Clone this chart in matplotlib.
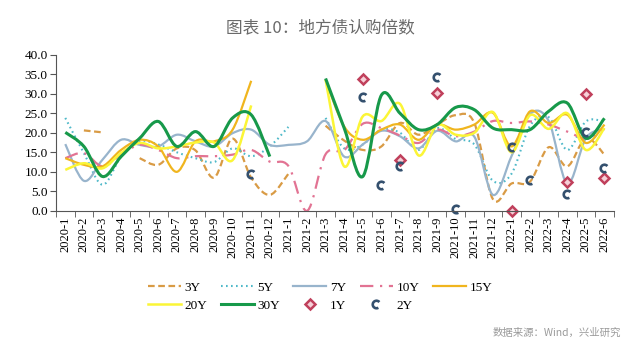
import numpy as np
import matplotlib
matplotlib.use('Agg')
import matplotlib.pyplot as plt
from matplotlib.path import Path
from matplotlib.patches import PathPatch
from matplotlib.lines import Line2D

plt.rcParams['font.family'] = ['Liberation Serif', 'DejaVu Sans']

nan = np.nan

# 月份
months = ['2020-1', '2020-2', '2020-3', '2020-4', '2020-5', '2020-6', '2020-7', '2020-8',
          '2020-9', '2020-10', '2020-11', '2020-12', '2021-1', '2021-2', '2021-3', '2021-4',
          '2021-5', '2021-6', '2021-7', '2021-8', '2021-9', '2021-10', '2021-11', '2021-12',
          '2022-1', '2022-2', '2022-3', '2022-4', '2022-5', '2022-6']

# 认购倍数
y3 = [nan, 20.6, 20.1, nan, 13.5, 11.8, 16.0, 15.5, 8.5, 18.5, 8.5, 4.1, 9.5, nan,
      21.8, 18.0, 15.6, 16.5, 22.5, 19.5, 22.1, 24.5, 22.5, 3.0, 7.0, 7.5, 16.3, 11.4, 18.6, 14.4]
y5 = [23.8, 14.8, 6.7, 13.9, 17.8, 17.0, 15.0, 13.5, 12.5, 16.0, 14.0, 16.5, 21.5, nan,
      23.8, 16.0, 17.0, 20.8, 20.0, 15.6, 21.2, 18.4, 17.0, 7.7, 9.5, 21.8, 24.0, 15.6, 22.9, 22.9]
y7 = [17.1, 7.7, 13.1, 18.2, 16.9, 16.5, 19.5, 17.8, 16.5, 19.9, 20.8, 16.9, 16.9, 17.8,
      23.0, 13.9, 17.0, 20.5, 19.1, 16.0, 20.5, 17.8, 19.0, 4.1, 14.0, 24.8, 23.0, 7.0, 18.6, 21.0]
y10 = [13.5, 14.8, 11.4, 14.4, 16.9, 15.6, 13.5, 14.0, 14.0, 14.4, 15.6, 12.6, 11.5, 0.0,
       14.5, 15.5, 22.3, 21.2, 19.3, 17.4, 20.8, 19.1, 20.3, 23.0, 22.5, 22.9, 22.1, 20.3, 18.6, 21.0]
y15 = [13.5, 11.8, 11.4, 15.6, 18.2, 16.5, 10.0, 17.8, 17.8, 20.8, 33.3, nan, nan, nan,
       33.5, 21.6, 18.2, 20.8, 22.1, 18.2, 22.1, 20.8, 22.1, 25.1, 16.5, 25.5, 22.5, 24.6, 17.4, 22.1]
y20 = [10.5, 12.2, 10.9, 14.8, 17.4, 16.0, 16.5, 17.5, 17.5, 13.0, 27.0, nan, nan, nan,
       33.6, 11.4, 24.2, 23.0, 27.4, 14.2, 22.0, 19.5, 20.0, 25.3, 15.0, 24.5, 21.0, 25.0, 15.6, 21.2]
y30 = [20.1, 16.5, 8.8, 13.9, 18.6, 22.9, 16.5, 20.3, 16.5, 23.8, 24.6, 13.9, nan, nan,
       33.9, 21.2, 8.8, 29.6, 25.0, 20.8, 22.1, 26.5, 25.9, 21.2, 20.8, 20.8, 25.5, 27.6, 18.6, 23.7]
y1 = [nan] * 16 + [33.8, nan, 12.9, nan, 30.3, nan, nan, nan, 0.0, nan, nan, 7.5, 29.9, 8.3]
y2 = [nan] * 10 + [9.5, nan, nan, nan, nan, nan, 29.2, 6.7, 11.4, nan, 34.4, 0.4, nan, nan,
                   16.4, 7.8, nan, 4.4, 20.3, 10.9]


def curva_liscia(xs, ys):
    # curva tipo Excel (Catmull-Rom -> Bezier)
    verts = [(xs[0], ys[0])]
    codes = [Path.MOVETO]
    n = len(xs)
    for i in range(n - 1):
        a = i - 1 if i > 0 else i
        d = i + 2 if i + 2 < n else i + 1
        c1 = (xs[i] + (xs[i + 1] - xs[a]) / 6, ys[i] + (ys[i + 1] - ys[a]) / 6)
        c2 = (xs[i + 1] - (xs[d] - xs[i]) / 6, ys[i + 1] - (ys[d] - ys[i]) / 6)
        verts += [c1, c2, (xs[i + 1], ys[i + 1])]
        codes += [Path.CURVE4] * 3
    return Path(verts, codes)


def disegna(ax, vals, color, lw, ls):
    x = np.arange(len(vals))
    v = np.array(vals, dtype=float)
    ok = ~np.isnan(v)
    i = 0
    while i < len(v):
        if ok[i]:
            j = i
            while j + 1 < len(v) and ok[j + 1]:
                j += 1
            if j > i:
                p = curva_liscia(x[i:j + 1], v[i:j + 1])
                ax.add_patch(PathPatch(p, fill=False, edgecolor=color, lw=lw,
                                       linestyle=ls, capstyle='butt', joinstyle='round'))
            i = j + 1
        else:
            i += 1


fig = plt.figure(figsize=(6.4, 3.48), dpi=100)
ax = fig.add_axes([0.0875, 0.394, 0.8715, 0.449])

c3, c5, c7, c10 = '#d99b45', '#4fb9c9', '#98b4cc', '#e27393'
c15, c20, c30 = '#f0b51e', '#fbf536', '#17994a'
c1, c2 = '#c0405c', '#34506e'

ls3 = (0, (3, 1.6))
ls5 = (0, (0.8, 1.6))
ls10 = (0, (6, 3, 1, 3))

disegna(ax, y3, c3, 1.6, ls3)
disegna(ax, y5, c5, 1.5, ls5)
disegna(ax, y7, c7, 1.6, '-')
disegna(ax, y10, c10, 1.6, ls10)
disegna(ax, y15, c15, 1.6, '-')
disegna(ax, y20, c20, 1.8, '-')
disegna(ax, y30, c30, 2.2, '-')

x = np.arange(len(months))
gancio = Path.arc(40, 300)
ax.plot(x, y1, ls='none', marker='D', ms=4.8, mfc='#f6d0d8', mec=c1, mew=1.8, clip_on=False)
ax.plot(x, y2, ls='none', marker=gancio, ms=5.5, mfc='none', mec=c2, mew=1.9, clip_on=False)

ax.set_xlim(-0.5, len(months) - 0.5)
ax.set_ylim(0, 40)
ax.set_yticks(np.arange(0, 41, 5))
ax.set_yticklabels(['%.1f' % t for t in np.arange(0, 41, 5)], fontsize=9.5)
ax.set_xticks(x)
ax.set_xticklabels(months, rotation=90, fontsize=9)
ax.set_xticks(np.arange(-0.5, len(months), 1), minor=True)
ax.tick_params(axis='x', which='major', length=0, pad=4)
ax.tick_params(axis='x', which='minor', length=4, direction='out', color='#555555')
ax.tick_params(axis='y', length=4, direction='out', color='#555555', pad=2)
for s in ['top', 'right']:
    ax.spines[s].set_visible(False)
for s in ['left', 'bottom']:
    ax.spines[s].set_color('#555555')
    ax.spines[s].set_linewidth(0.8)

maniglie = {
    '3Y': Line2D([], [], color=c3, lw=1.6, ls=ls3),
    '5Y': Line2D([], [], color=c5, lw=1.5, ls=ls5),
    '7Y': Line2D([], [], color=c7, lw=1.6),
    '10Y': Line2D([], [], color=c10, lw=1.6, ls=ls10),
    '15Y': Line2D([], [], color=c15, lw=1.6),
    '20Y': Line2D([], [], color=c20, lw=1.8),
    '30Y': Line2D([], [], color=c30, lw=2.2),
    '1Y': Line2D([], [], ls='none', marker='D', ms=4.8, mfc='#f6d0d8', mec=c1, mew=1.8),
    '2Y': Line2D([], [], ls='none', marker=gancio, ms=5.5, mfc='none', mec=c2, mew=1.9),
}
ordine = ['3Y', '20Y', '5Y', '30Y', '7Y', '1Y', '10Y', '2Y', '15Y']
fig.legend([maniglie[k] for k in ordine], ordine, loc='center', bbox_to_anchor=(0.50, 0.147),
           ncol=5, frameon=False, fontsize=9.5, handlelength=2.5, handletextpad=0.3,
           columnspacing=1.0, labelspacing=0.45)

fig.text(0.5, 0.92, '图表 10：地方债认购倍数', ha='center', va='center', fontsize=12,
         color='#6a6a6a', family=['Noto Sans CJK SC', 'DejaVu Sans'])
fig.text(0.97, 0.043, '数据来源：Wind，兴业研究', ha='right', va='center', fontsize=7.5,
         color='#9a9a9a', family=['Noto Sans CJK SC', 'DejaVu Sans'])

fig.savefig('out.png', dpi=100)
